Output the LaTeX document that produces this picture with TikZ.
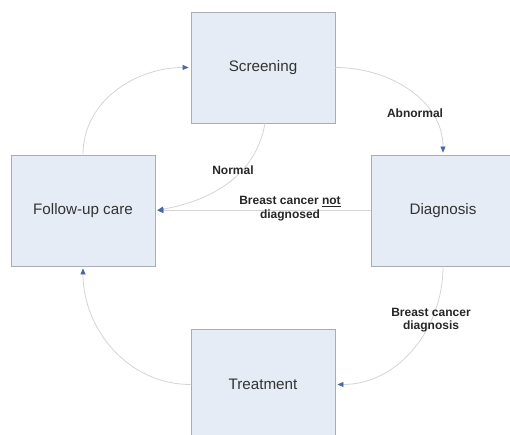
\documentclass[tikz,border=0pt]{standalone}
\usepackage{fontspec}
\setmainfont{Liberation Sans}
\usetikzlibrary{arrows.meta}
\definecolor{boxfill}{HTML}{E6ECF5}
\definecolor{boxline}{HTML}{A8AEB6}
\definecolor{conn}{HTML}{D2D4D6}
\definecolor{tipblue}{HTML}{4A68A8}
\tikzset{
  stagebox/.style={draw=boxline, fill=boxfill, line width=0.8pt, minimum width=144pt, minimum height=111pt, inner sep=0pt, font=\fontsize{15.2}{17}\selectfont, text=black!80},
  flow/.style={draw=conn, line width=0.8pt, -{Triangle[length=6pt,width=5pt,color=tipblue]}, shorten >=2pt},
  lbl/.style={font=\bfseries\fontsize{12}{13.5}\selectfont, align=center, text=black!85}
}
\begin{document}
\begin{tikzpicture}[x=1pt,y=-1pt]
\useasboundingbox (0,0) rectangle (510,435);
\clip (0,0) rectangle (510,435);
\node[stagebox] (scr) at (263,67.5) {Screening};
\node[stagebox] (fu) at (83,210.5) {Follow-up care};
\node[stagebox] (dia) at (443,210.5) {Diagnosis};
\node[stagebox] (tre) at (263,384.5) {Treatment};
\draw[flow] (fu.north) to[out=90,in=180] (scr.west);
\draw[flow] (scr.east) to[out=0,in=90] (dia.north);
\draw[flow] ([xshift=2pt]scr.south) to[out=-100,in=10] (fu.east);
\draw[flow] (dia.west) -- (fu.east);
\draw[flow] (dia.south) to[out=-90,in=0] (tre.east);
\draw[flow] (tre.west) to[out=180,in=-90] (fu.south);
\node[lbl] (l1) at (415,113) {Abnormal};
\node[lbl] (l2) at (233,170) {Normal};
\node[lbl] (l3) at (290,208.5) {Breast cancer \underline{not}\\diagnosed};
\node[lbl] (l4) at (431,320) {Breast cancer\\diagnosis};
\end{tikzpicture}
\end{document}
